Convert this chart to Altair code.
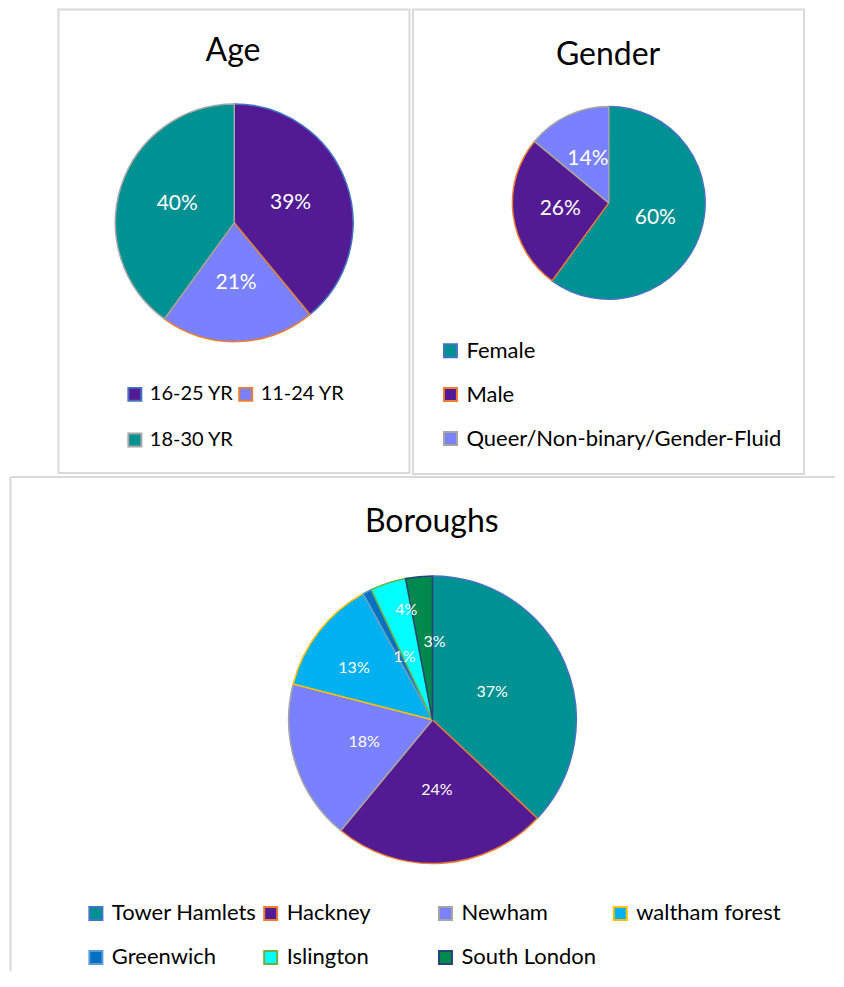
import altair as alt
import pandas as pd

# ---------------- data ----------------
age_groups = ["16-25 YR", "11-24 YR", "18-30 YR"]
age_share = [39, 21, 40]

genders = ["Female", "Male", "Queer/Non-binary/Gender-Fluid"]
gender_share = [60, 26, 14]

boroughs = ["Tower Hamlets", "Hackney", "Newham", "waltham forest",
            "Greenwich", "Islington", "South London"]
borough_share = [37, 24, 18, 13, 1, 4, 3]

# ---------------- styles ----------------
TEAL, GRAPE, ORCHID = "#009193", "#531B93", "#7A81FF"
age_fill = [GRAPE, ORCHID, TEAL]
gender_fill = [TEAL, GRAPE, ORCHID]
borough_fill = [TEAL, GRAPE, ORCHID, "#00B0F0", "#0070C0", "#00FFFF", "#00894F"]
office_outline = ["#4472C4", "#ED7D31", "#A5A5A5", "#FFC000",
                  "#5B9BD5", "#70AD47", "#264478"]
# label placement (layout, like Excel "best fit"): distance from centre, angle nudge in degrees
borough_label_radius = [66, 71, 72, 94, 69, 113, 78]
borough_label_nudge = [-1.7, 0, 0, -4.5, 3.1, 4.6, 6.9]

FONT = "Lato"
FRAME = "#D9D9D9"
one = pd.DataFrame({"k": [0]})


def frame_rect(x0, x1, y0, y1):
    return alt.Chart(one).mark_rect(
        fillOpacity=0, stroke=FRAME, strokeWidth=2
    ).encode(x=alt.value(x0), x2=alt.value(x1), y=alt.value(y0), y2=alt.value(y1))


def title_text(text, x, y, size=32):
    return alt.Chart(one).mark_text(
        text=text, font=FONT, fontSize=size, align="center",
        baseline="alphabetic", color="#000000"
    ).encode(x=alt.value(x), y=alt.value(y))


def pie(cats, vals, fills, cx, cy, r, label_r, label_size, legend, nudge=None):
    df = pd.DataFrame({"cat": cats, "value": vals, "idx": list(range(len(cats)))})
    text_props = {}
    if isinstance(label_r, list):
        df["lr"] = label_r
        text_props["radius"] = alt.ExprRef("datum.lr")
    else:
        text_props["radius"] = label_r
    if nudge is not None:
        df["nudge"] = nudge
        text_props["thetaOffset"] = alt.ExprRef("datum.nudge * PI / 180")
    base = alt.Chart(df).encode(
        theta=alt.Theta("value:Q", stack=True),
        order=alt.Order("idx:Q"),
        x=alt.value(cx), y=alt.value(cy),
    )
    arcs = base.mark_arc(outerRadius=r, strokeWidth=1.5, strokeJoin="round").encode(
        color=alt.Color("cat:N", scale=alt.Scale(domain=cats, range=fills),
                        sort=cats, legend=legend),
        stroke=alt.Stroke("cat:N", scale=alt.Scale(domain=cats,
                          range=office_outline[:len(cats)]), sort=cats, legend=legend),
    )
    labels = base.mark_text(
        font=FONT, fontSize=label_size, color="white", align="center",
        baseline="middle", **text_props
    ).transform_calculate(lab="datum.value + '%'").encode(text="lab:N")
    return arcs, labels


def legend(x, y, cols, direction, size, row_pad, col_pad=0):
    return alt.Legend(
        orient="none", legendX=x, legendY=y, title=None, columns=cols,
        direction=direction, symbolType="square", symbolSize=169,
        symbolStrokeWidth=2, labelFont=FONT, labelFontSize=size, labelColor="#000000",
        labelOffset=5, rowPadding=row_pad, columnPadding=col_pad, gridAlign="all",
        padding=0, labelLimit=500,
    )


# ---- Age panel ----
AW, AH = 404, 468
a_arcs, a_labels = pie(age_groups, age_share, age_fill, 226.5, 214.5, 119, 60, 21,
                       legend(117, 376, 2, "horizontal", 20, 24, 1))
age = alt.layer(
    frame_rect(50.5, 402, 1, 465), a_arcs, a_labels, title_text("Age", 225.3, 52)
).properties(width=AW, height=AH)

# ---- Gender panel ----
GW, GH = 400, 468
g_arcs, g_labels = pie(genders, gender_share, gender_fill, 197.5, 194.5, 96.5, 49, 21,
                       legend(28, 331.5, 1, "vertical", 22, 22))
gender = alt.layer(
    frame_rect(1.5, 393, 1, 466), g_arcs, g_labels, title_text("Gender", 196.8, 56)
).properties(width=GW, height=GH)

# ---- Boroughs panel ----
BW, BH = 828, 496
b_arcs, b_labels = pie(boroughs, borough_share, borough_fill, 425, 244, 144,
                       borough_label_radius, 16,
                       legend(77, 427, 4, "horizontal", 22, 22, 3),
                       nudge=borough_label_nudge)
left_line = alt.Chart(one).mark_rule(color=FRAME, strokeWidth=2).encode(
    x=alt.value(2.5), y=alt.value(1), y2=alt.value(BH))
top_line = alt.Chart(one).mark_rule(color=FRAME, strokeWidth=2).encode(
    x=alt.value(2.5), x2=alt.value(BW), y=alt.value(1))
bor = alt.layer(
    left_line, top_line, b_arcs, b_labels, title_text("Boroughs", 424.3, 56.3)
).properties(width=BW, height=BH)

top = alt.hconcat(age, gender, spacing=0).resolve_scale(
    color="independent", stroke="independent", theta="independent"
).resolve_legend(color="independent", stroke="independent")

chart = alt.vconcat(top, bor, spacing=0).resolve_scale(
    color="independent", stroke="independent", theta="independent"
).resolve_legend(color="independent", stroke="independent").properties(
    padding=0
).configure(font=FONT).configure_view(stroke=None, strokeWidth=0)

chart.save("out.html", embed_options={"renderer": "svg", "actions": False})
